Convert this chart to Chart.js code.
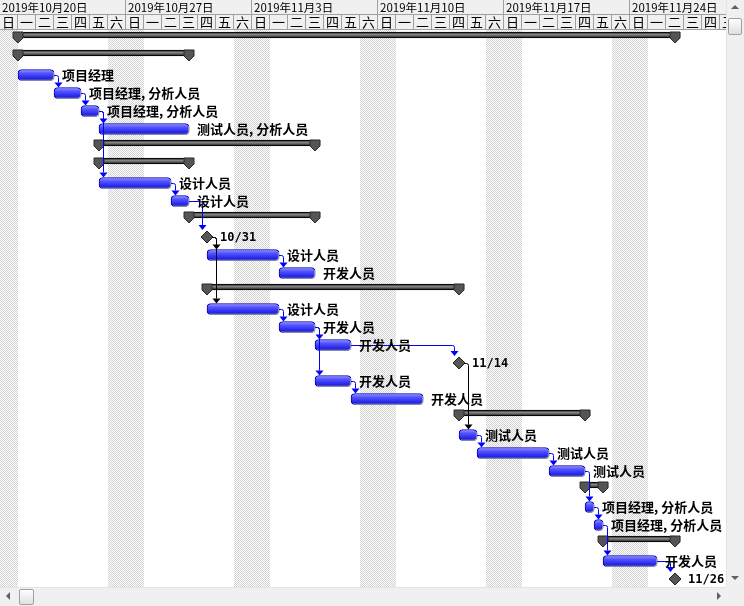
<!DOCTYPE html>
<html>
<head>
<meta charset="utf-8">
<script src="https://cdn.jsdelivr.net/npm/chart.js@4.4.0/dist/chart.umd.min.js"></script>
<style>
  body { margin: 0; background: #fff; }
  #wrap { position: relative; width: 744px; height: 606px; overflow: hidden; background: #fff; }
  #gantt { position: absolute; left: 0; top: 0; }
  .vs { position: absolute; left: 726px; top: 0; width: 18px; height: 588px; background: #f0f0f0; border-left: 1px solid #e3e3e3; box-sizing: border-box; }
  .hs { position: absolute; left: 0; top: 587px; width: 726px; height: 19px; background: #f0f0f0; border-top: 1px solid #e3e3e3; box-sizing: border-box; }
  .corner { position: absolute; left: 726px; top: 587px; width: 18px; height: 19px; background: #f0f0f0; }
  .thumb { position: absolute; background: linear-gradient(#fdfdfd, #e0e0e0); border: 1px solid #a0a0a0; border-radius: 2px; box-sizing: border-box; }
  .arr { position: absolute; width: 0; height: 0; border: 4px solid transparent; }
</style>
</head>
<body>
<div id="wrap">
  <canvas id="gantt" width="726" height="588"></canvas>
  <div class="vs"></div>
  <div class="hs"></div>
  <div class="corner"></div>
  <div class="arr" style="left:731px;top:5px;border-top-width:0;border-bottom-color:#606060;"></div>
  <div class="thumb" style="left:728px;top:18px;width:14px;height:17px;"></div>
  <div class="arr" style="left:731px;top:576px;border-bottom-width:0;border-top-color:#606060;"></div>
  <div class="arr" style="left:6px;top:592px;border-left-width:0;border-right-color:#606060;"></div>
  <div class="thumb" style="left:19px;top:589px;width:15px;height:16px;"></div>
  <div class="arr" style="left:717px;top:592px;border-right-width:0;border-left-color:#606060;"></div>
</div>
<script>
// 时间单位: 天, 从 2019-10-20 0:00 起算
const weekLabels = ['2019年10月20日', '2019年10月27日', '2019年11月3日', '2019年11月10日', '2019年11月17日', '2019年11月24日'];
const dayNames = ['日', '一', '二', '三', '四', '五', '六'];
const viewDays = 40.33;
const rowCount = 31;

// 汇总任务
const summaryRow   = [0, 1, 6, 7, 10, 14, 21, 25, 28];
const summaryStart = [1, 1, 5.5, 5.5, 10.5, 11.5, 25.5, 32.5, 33.5];
const summaryEnd   = [37.5, 10.5, 17.5, 10.5, 17.5, 25.5, 32.5, 33.5, 37.5];

// 普通任务
const taskRow   = [2, 3, 4, 5, 8, 9, 12, 13, 15, 16, 17, 19, 20, 22, 23, 24, 26, 27, 29];
const taskStart = [1, 3, 4.5, 5.5, 5.5, 9.5, 11.5, 15.5, 11.5, 15.5, 17.5, 17.5, 19.5, 25.5, 26.5, 30.5, 32.5, 33, 33.5];
const taskEnd   = [3, 4.5, 5.5, 10.5, 9.5, 10.5, 15.5, 17.5, 15.5, 17.5, 19.5, 19.5, 23.5, 26.5, 30.5, 32.5, 33, 33.5, 36.5];
const taskRes   = ['项目经理', '项目经理, 分析人员', '项目经理, 分析人员', '测试人员, 分析人员', '设计人员', '设计人员',
                   '设计人员', '开发人员', '设计人员', '开发人员', '开发人员', '开发人员', '开发人员',
                   '测试人员', '测试人员', '测试人员', '项目经理, 分析人员', '项目经理, 分析人员', '开发人员'];

// 里程碑
const milestoneRow   = [11, 18, 30];
const milestoneAt    = [11.5, 25.5, 37.5];
const milestoneLabel = ['10/31', '11/14', '11/26'];

// 链接 (前置行 -> 后续行)
const linkFrom = [2, 3, 4, 4, 8, 9, 11, 11, 12, 15, 16, 16, 17, 19, 18, 22, 23, 24, 26, 27, 29];
const linkTo   = [3, 4, 5, 8, 9, 11, 12, 15, 13, 16, 17, 19, 18, 20, 22, 23, 24, 26, 27, 29, 30];

function rowInfo(r) {
  let i = taskRow.indexOf(r);
  if (i >= 0) return { kind: 'task', start: taskStart[i], end: taskEnd[i] };
  i = milestoneRow.indexOf(r);
  if (i >= 0) return { kind: 'ms', start: milestoneAt[i], end: milestoneAt[i] };
  i = summaryRow.indexOf(r);
  return { kind: 'sum', start: summaryStart[i], end: summaryEnd[i] };
}

function makeDots(ctx) {
  const c = document.createElement('canvas');
  c.width = 2; c.height = 2;
  const g = c.getContext('2d');
  g.fillStyle = '#ffffff'; g.fillRect(0, 0, 2, 2);
  g.fillStyle = '#d2d2d2'; g.fillRect(0, 0, 1, 1); g.fillRect(1, 1, 1, 1);
  return ctx.createPattern(c, 'repeat');
}

// 背景: 周末阴影 + 时间刻度表头
const ganttBack = {
  id: 'ganttBack',
  beforeDraw(chart) {
    const { ctx, chartArea: area, scales: { x } } = chart;
    const w = chart.width;
    ctx.save();
    ctx.fillStyle = '#fff';
    ctx.fillRect(0, 0, w, chart.height);
    ctx.fillStyle = makeDots(ctx);
    for (let d = 0; d < viewDays; d++) {
      if (d % 7 === 0 || d % 7 === 6) {
        const a = Math.round(x.getPixelForValue(d)), b = Math.round(x.getPixelForValue(d + 1));
        ctx.fillRect(a, area.top, b - a, area.bottom - area.top);
      }
    }
    // 表头
    const mid = Math.round(area.top / 2);
    ctx.fillStyle = '#f0f0f0';
    ctx.fillRect(0, 0, w, area.top);
    ctx.strokeStyle = '#a0a0a0';
    ctx.lineWidth = 1;
    ctx.beginPath();
    ctx.moveTo(0, mid - 0.5); ctx.lineTo(w, mid - 0.5);
    ctx.moveTo(0, area.top - 0.5); ctx.lineTo(w, area.top - 0.5);
    weekLabels.forEach((t, k) => {
      const px = Math.round(x.getPixelForValue(7 * k)) - 0.5;
      ctx.moveTo(px, 0); ctx.lineTo(px, mid);
    });
    for (let d = 0; d <= viewDays; d++) {
      const px = Math.round(x.getPixelForValue(d)) - 0.5;
      ctx.moveTo(px, mid); ctx.lineTo(px, area.top);
    }
    ctx.stroke();
    ctx.fillStyle = '#000';
    ctx.textBaseline = 'middle';
    ctx.font = '11.5px "Noto Sans CJK SC"';
    ctx.textAlign = 'left';
    weekLabels.forEach((t, k) => {
      ctx.fillText(t, x.getPixelForValue(7 * k) + 2, mid / 2 + 0.5);
    });
    ctx.font = '13px "Noto Sans CJK SC"';
    ctx.textAlign = 'center';
    for (let d = 0; d <= viewDays; d++) {
      ctx.fillText(dayNames[d % 7], (x.getPixelForValue(d) + x.getPixelForValue(d + 1)) / 2 - 0.5, (mid + area.top) / 2);
    }
    ctx.restore();
  },
  beforeDatasetDraw(chart, args) {
    if (args.index === 1) {
      const ctx = chart.ctx;
      ctx.save();
      ctx.shadowColor = '#a8a8a8';
      ctx.shadowOffsetX = 1;
      ctx.shadowOffsetY = 1;
    }
  },
  afterDatasetDraw(chart, args) {
    if (args.index === 1) chart.ctx.restore();
  }
};

// 前景: 汇总端点, 链接线, 资源标签
const ganttFront = {
  id: 'ganttFront',
  afterDatasetsDraw(chart) {
    const { ctx, scales: { x, y } } = chart;
    ctx.save();
    // 汇总端点
    const sumMeta = chart.getDatasetMeta(0);
    sumMeta.data.forEach(el => {
      const top = el.y - 3;
      [el.base, el.x].forEach(px => {
        ctx.beginPath();
        ctx.moveTo(px - 5, top);
        ctx.lineTo(px + 5, top);
        ctx.lineTo(px + 5, top + 6);
        ctx.lineTo(px, top + 11);
        ctx.lineTo(px - 5, top + 6);
        ctx.closePath();
        ctx.fillStyle = '#555';
        ctx.fill();
        ctx.strokeStyle = '#2a2a2a';
        ctx.lineWidth = 1;
        ctx.stroke();
      });
    });
    // 链接
    linkFrom.forEach((f, i) => {
      const t = linkTo[i];
      const a = rowInfo(f), b = rowInfo(t);
      const sy = Math.round(y.getPixelForValue(f)) + 0.5;
      const sx = a.kind === 'ms' ? x.getPixelForValue(a.end) + 5 : x.getPixelForValue(a.end);
      let ax, tip;
      if (b.kind === 'ms') {
        ax = x.getPixelForValue(b.start) - 5;
        tip = y.getPixelForValue(t) - 7;
      } else {
        ax = Math.max(sx + 4, x.getPixelForValue(b.start) + 4);
        tip = y.getPixelForValue(t) - 5.5;
      }
      ax = Math.round(ax) + 0.5;
      const col = a.kind === 'ms' ? '#000' : '#0000ff';
      ctx.strokeStyle = col;
      ctx.fillStyle = col;
      ctx.lineWidth = 1;
      ctx.beginPath();
      ctx.moveTo(sx, sy);
      ctx.lineTo(ax - 2, sy);
      ctx.quadraticCurveTo(ax, sy, ax, sy + 2);
      ctx.lineTo(ax, tip - 5);
      ctx.stroke();
      ctx.beginPath();
      ctx.moveTo(ax - 4, tip - 5);
      ctx.lineTo(ax + 4, tip - 5);
      ctx.lineTo(ax, tip);
      ctx.closePath();
      ctx.fill();
    });
    // 资源标签
    ctx.fillStyle = '#000';
    ctx.textBaseline = 'middle';
    ctx.textAlign = 'left';
    ctx.font = 'bold 13px "Noto Sans CJK SC"';
    taskRow.forEach((r, i) => {
      ctx.fillText(taskRes[i], x.getPixelForValue(taskEnd[i]) + 8, y.getPixelForValue(r) + 0.5);
    });
    ctx.font = 'bold 12px "DejaVu Sans Mono"';
    milestoneRow.forEach((r, i) => {
      ctx.fillText(milestoneLabel[i], x.getPixelForValue(milestoneAt[i]) + 13, y.getPixelForValue(r) + 1);
    });
    ctx.restore();
  }
};

function barGradient(c, axisId, half, stops) {
  const chart = c.chart;
  if (!chart.chartArea || !c.raw) return stops[1][1];
  const yc = chart.scales[axisId].getPixelForValue(c.raw.y);
  const g = chart.ctx.createLinearGradient(0, yc - half, 0, yc + half);
  stops.forEach(s => g.addColorStop(s[0], s[1]));
  return g;
}

const ctx = document.getElementById('gantt').getContext('2d');
new Chart(ctx, {
  type: 'bar',
  data: {
    datasets: [{
      label: '汇总',
      yAxisID: 'ys',
      data: summaryRow.map((r, i) => ({ x: [summaryStart[i], summaryEnd[i]], y: r })),
      barThickness: 6,
      grouped: false,
      borderSkipped: false,
      borderWidth: 1,
      borderColor: '#000',
      backgroundColor: c => barGradient(c, 'ys', 3, [[0, '#1a1a1a'], [0.45, '#8a8a8a'], [0.6, '#666'], [1, '#111']])
    }, {
      label: '任务',
      yAxisID: 'y',
      data: taskRow.map((r, i) => ({ x: [taskStart[i], taskEnd[i]], y: r })),
      barThickness: 11,
      grouped: false,
      borderSkipped: false,
      borderRadius: 4,
      borderWidth: 1,
      borderColor: '#0000b4',
      backgroundColor: c => barGradient(c, 'y', 5.5, [[0, '#a0a0ff'], [0.3, '#5a5aff'], [0.7, '#2e2ef2'], [1, '#1c1cc4']])
    }, {
      label: '里程碑',
      type: 'scatter',
      yAxisID: 'y',
      data: milestoneRow.map((r, i) => ({ x: milestoneAt[i], y: r })),
      pointStyle: 'rectRot',
      pointRadius: 6,
      backgroundColor: '#565656',
      borderColor: '#222',
      borderWidth: 1
    }]
  },
  options: {
    indexAxis: 'y',
    responsive: false,
    animation: false,
    layout: { autoPadding: false, padding: { top: 30, left: 0, right: 0, bottom: 0 } },
    scales: {
      x: { type: 'linear', min: 0, max: viewDays, display: false },
      y: { type: 'linear', min: -0.5, max: rowCount - 0.5, reverse: true, offset: false, display: false },
      ys: { type: 'linear', axis: 'y', min: -0.5 + 4 / 18, max: rowCount - 0.5 + 4 / 18, reverse: true, offset: false, display: false }
    },
    plugins: {
      legend: { display: false },
      tooltip: { enabled: false }
    }
  },
  plugins: [ganttBack, ganttFront]
});
</script>
</body>
</html>
